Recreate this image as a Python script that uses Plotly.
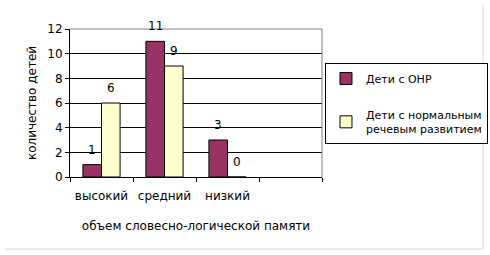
import plotly.graph_objects as go

categories = ["высокий", "средний", "низкий", " "]
onr_values = [1, 11, 3, None]
norm_values = [6, 9, 0, None]
series_names = ["Дети с ОНР", "Дети с нормальным<br>речевым развитием"]
y_ticks = [0, 2, 4, 6, 8, 10, 12]

FONT = "DejaVu Sans"
fig = go.Figure()
fig.add_trace(go.Bar(x=categories, y=onr_values, name=series_names[0],
                     marker=dict(color="#993366", line=dict(color="black", width=1)),
                     legendgroup="a"))
fig.add_trace(go.Bar(x=categories, y=norm_values, name=series_names[1],
                     marker=dict(color="#FFFFCC", line=dict(color="black", width=1)),
                     legendgroup="b"))

annotations = []
for vals, shift in ((onr_values, -9.25), (norm_values, 9.25)):
    for c, v in zip(categories, vals):
        if v is None:
            continue
        annotations.append(dict(x=c, y=v, xref="x", yref="y", text=str(v), showarrow=False,
                                xshift=shift, yshift=15, yanchor="middle",
                                font=dict(family=FONT, size=12, color="black")))

fig.update_layout(
    width=490, height=255,
    margin=dict(l=70, r=168, t=29, b=78, autoexpand=False),
    paper_bgcolor="white", plot_bgcolor="white",
    font=dict(family=FONT, size=12, color="black"),
    barmode="group", bargap=0.41, bargroupgap=0,
    annotations=annotations,
    legend=dict(x=1.0119, y=0.770, xanchor="left", yanchor="top",
                bordercolor="black", borderwidth=1, bgcolor="white", itemwidth=30,
                tracegroupgap=18, font=dict(family=FONT, size=11, color="black")),
    xaxis=dict(categoryorder="array", categoryarray=categories, range=[-0.5, 3.5],
               showline=True, linecolor="black", linewidth=1, automargin=False,
               ticks="outside", tickson="boundaries", ticklen=4, tickcolor="black",
               ticklabelstandoff=8, tickfont=dict(family=FONT, size=12),
               title=dict(text="объем словесно-логической памяти", standoff=19,
                          font=dict(family=FONT, size=12))),
    yaxis=dict(range=[0, 12], tickvals=y_ticks, showgrid=True, gridcolor="black", gridwidth=1,
               showline=True, linecolor="black", linewidth=1, automargin=False,
               ticks="outside", ticklen=4, tickcolor="black",
               tickfont=dict(family=FONT, size=12),
               title=dict(text="количество детей", standoff=8, font=dict(family=FONT, size=12))),
    shapes=[
        dict(type="line", xref="paper", yref="paper", x0=0, x1=1, y0=1, y1=1,
             line=dict(color="#808080", width=1)),
        dict(type="line", xref="paper", yref="paper", x0=1, x1=1, y0=0, y1=1,
             line=dict(color="#808080", width=1)),
        dict(type="line", xref="paper", yref="paper", x0=1.639, x1=1.639, y0=1.162, y1=-0.486,
             line=dict(color="#e4e4e4", width=1.5)),
        dict(type="line", xref="paper", yref="paper", x0=-0.258, x1=1.639, y0=-0.486, y1=-0.486,
             line=dict(color="#e4e4e4", width=1.5)),
    ],
)
fig.write_html("out.html")
